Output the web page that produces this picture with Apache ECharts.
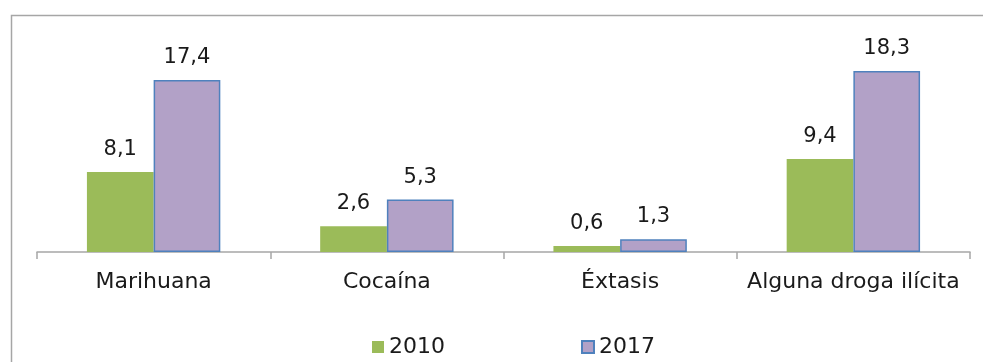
<!DOCTYPE html>
<html>
<head>
<meta charset="utf-8">
<script src="https://cdn.jsdelivr.net/npm/echarts@6/dist/echarts.min.js"></script>
<style>html,body{margin:0;padding:0;background:#fff}#c{width:983px;height:362px}</style>
</head>
<body>
<div id="c"></div>
<script>
const categories = ['Marihuana', 'Cocaína', 'Éxtasis', 'Alguna droga ilícita'];
const series2010 = [8.1, 2.6, 0.6, 9.4];
const series2017 = [17.4, 5.3, 1.3, 18.3];
const seriesNames = ['2010', '2017'];

const FONT = 'DejaVu Sans';
const chart = echarts.init(document.getElementById('c'), null, {renderer: 'canvas'});
const fmt = p => String(p.value).replace('.', ',');
chart.setOption({
  animation: false,
  backgroundColor: '#ffffff',
  graphic: [{
    type: 'rect', left: 9, top: 13, z: -10,
    shape: {width: 1300, height: 600},
    style: {fill: 'none', stroke: '#A6A6A6', lineWidth: 1.5}
  }],
  grid: {left: 37, right: 13, top: 54.3, bottom: 110},
  legend: {
    data: seriesNames, left: 372, top: 336, itemGap: 136, padding: 0,
    itemWidth: 12, itemHeight: 12, icon: 'rect',
    textStyle: {fontFamily: FONT, fontSize: 22, color: '#1a1a1a', padding: [0,0,0,0]}
  },
  xAxis: {
    type: 'category', data: categories,
    axisLine: {lineStyle: {color: '#A6A6A6', width: 1.5}},
    axisTick: {show: true, interval: 0, length: 7, lineStyle: {color: '#A6A6A6', width: 1.5}},
    axisLabel: {interval: 0, fontFamily: FONT, fontSize: 22, color: '#1a1a1a', margin: 19}
  },
  yAxis: {type: 'value', min: 0, max: 20, show: false, splitLine: {show: false}},
  series: [
    {name: seriesNames[0], type: 'bar', data: series2010, barWidth: 66.7, barGap: '0%',
     itemStyle: {color: '#9BBB59'},
     label: {show: true, position: 'top', distance: 12, formatter: fmt, fontFamily: FONT, fontSize: 21, color: '#1a1a1a'}},
    {name: seriesNames[1], type: 'bar', data: series2017, barWidth: 66.7, barGap: '0%',
     itemStyle: {color: '#B2A1C7', borderColor: '#4F81BD', borderWidth: 1.5},
     label: {show: true, position: 'top', distance: 12, formatter: fmt, fontFamily: FONT, fontSize: 21, color: '#1a1a1a'}}
  ]
});
</script>
</body>
</html>
